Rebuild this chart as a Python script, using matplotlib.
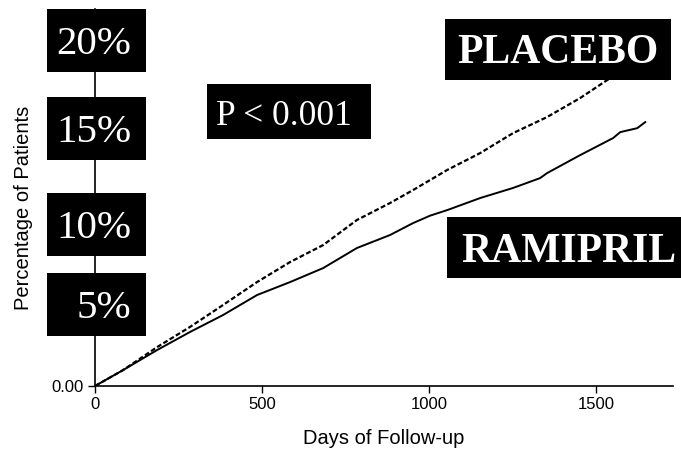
import numpy as np
import matplotlib
matplotlib.use('Agg')
import matplotlib.pyplot as plt
from matplotlib.patches import Rectangle

# Kaplan-Meier style curves (days, cumulative fraction)
placebo_days = [0, 84, 186, 284, 383, 485, 584, 683, 784, 883, 952, 1054,
                1153, 1251, 1353, 1452, 1533, 1647]
placebo_rate = [0.0, 0.0092, 0.0225, 0.0341, 0.0468, 0.0601, 0.0717, 0.0815,
                0.0960, 0.1058, 0.1133, 0.1249, 0.1347, 0.1462, 0.1555,
                0.1665, 0.1769, 0.1884]

ramipril_days = [0, 84, 186, 284, 383, 485, 584, 683, 784, 883, 952, 1003,
                 1054, 1153, 1251, 1332, 1353, 1452, 1551, 1572, 1623, 1647]
ramipril_rate = [0.0, 0.0092, 0.0208, 0.0312, 0.0410, 0.0526, 0.0601, 0.0682,
                 0.0798, 0.0873, 0.0942, 0.0985, 0.1017, 0.1087, 0.1145,
                 0.1202, 0.1231, 0.1335, 0.1434, 0.1468, 0.1491, 0.1526]

x_ticks = [0, 500, 1000, 1500]
y_ticks = [0.0, 0.05, 0.10, 0.15, 0.20]
y_tick_labels = ['0.00', '', '', '', '']
pct_labels = ['5%', '10%', '15%', '20%']

W, H = 681, 449
fig = plt.figure(figsize=(W / 100, H / 100), dpi=100)
ax = fig.add_axes([95 / W, 1 - 386 / H, 578 / W, 377 / H])

ax.plot(ramipril_days, ramipril_rate, color='black', lw=1.4)
ax.plot(placebo_days, placebo_rate, color='black', lw=1.6,
        linestyle=(0, (2.2, 1.1)))

ax.set_xlim(0, 1730)
ax.set_ylim(0, 0.218)
ax.set_xticks(x_ticks)
ax.set_yticks(y_ticks)
ax.set_yticklabels(y_tick_labels)

for side in ['top', 'right']:
    ax.spines[side].set_visible(False)
for side in ['left', 'bottom']:
    ax.spines[side].set_linewidth(1.2)

ax.tick_params(direction='out', length=5, width=1, labelsize=12, pad=3)
for lab in ax.get_xticklabels() + ax.get_yticklabels():
    lab.set_family('Liberation Sans')

ax.set_xlabel('Days of Follow-up', fontsize=14.5, family='Liberation Sans',
              labelpad=12)
ax.set_ylabel('Percentage of Patients', fontsize=14.5, family='Liberation Sans')
ax.yaxis.set_label_coords(-0.107, 0.472)


# overlay boxes pasted on the chart (pixel positions in the picture)
def box(x0, y0, x1, y1):
    fig.patches.append(Rectangle((x0 / W, 1 - y1 / H), (x1 - x0) / W,
                                 (y1 - y0) / H, transform=fig.transFigure,
                                 facecolor='black', edgecolor='none',
                                 zorder=5))


def label(x, y, s, size, weight='normal', ha='left'):
    fig.text(x / W, 1 - y / H, s, fontsize=size, weight=weight, ha=ha,
             va='baseline', color='white', family='Liberation Serif',
             zorder=6)


pct_boxes = [(273, 336), (193, 256), (97, 160), (9, 72)]
for s, (y0, y1) in zip(pct_labels, pct_boxes):
    box(47, y0, 146, y1)
    label(131, (y0 + y1) / 2 + 14, s, 29.5, ha='right')

box(207, 84, 371, 139)
label(216, 125, 'P < 0.001', 25.5)

box(445, 19, 671, 80)
label(457, 63, 'PLACEBO', 30, weight='bold')

box(447, 217, 681, 278)
label(461, 262, 'RAMIPRIL', 30, weight='bold')

fig.savefig('out.png', dpi=100)
